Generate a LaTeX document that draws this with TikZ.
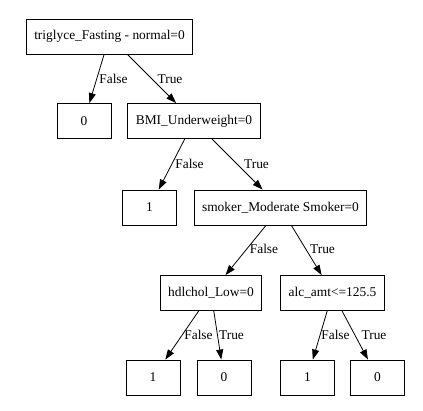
\documentclass[tikz,border=0pt]{standalone}
\usepackage{fontspec}
\setmainfont{Liberation Serif}
\usepackage{tikz}
\usetikzlibrary{arrows.meta, positioning}

\begin{document}
\begin{tikzpicture}[
    x=1pt, y=-1pt,
    box/.style={draw, rectangle, line width=0.9pt, minimum width=54pt,
                minimum height=35pt, inner xsep=8pt,
                font=\fontsize{13.4}{16}\selectfont},
    lbl/.style={inner sep=0pt, font=\fontsize{13.4}{16}\selectfont},
    arr/.style={-{Triangle[length=10pt, width=7pt]}, line width=0.8pt}
  ]
  \useasboundingbox (0,0) rectangle (423,411);
  % Split nodes
  \node[box] (root) at (109.5, 36.5) {triglyce\_Fasting - normal=0};
  \node[box] (bmi) at (194, 121) {BMI\_Underweight=0};
  \node[box] (smk) at (280.5, 207.5) {smoker\_Moderate Smoker=0};
  \node[box] (hdl) at (211, 293) {hdlchol\_Low=0};
  \node[box] (alc) at (332.5, 293) {alc\_amt<=125.5};
  % Leaves
  \foreach \n/\x/\y/\v in {a0/84/121/0, a1/149.5/207.5/1,
                           b1/153/377.5/1, b0/224/377.5/0,
                           c1/307.5/377.5/1, c0/377.5/377.5/0} {
    \node[box] (\n) at (\x, \y) {\v};
  }
  % Edges
  \foreach \a/\b in {root/a0, root/bmi, bmi/a1, bmi/smk, smk/hdl,
                     smk/alc, hdl/b1, hdl/b0, alc/c1, alc/c0} {
    \draw[arr] (\a) -- (\b);
  }
  % Edge labels
  \foreach \n/\x/\y/\t in {lra/113.5/79/False, lrb/170/79/True,
                           lba/189.5/164/False, lbb/256.5/164/True,
                           lsa/264/249/False, lsb/322.5/249/True,
                           lha/198.5/335/False, lhb/231.5/335/True,
                           laa/335.5/335/False, lab/374/335/True} {
    \node[lbl] (\n) at (\x, \y) {\t};
  }
\end{tikzpicture}
\end{document}
